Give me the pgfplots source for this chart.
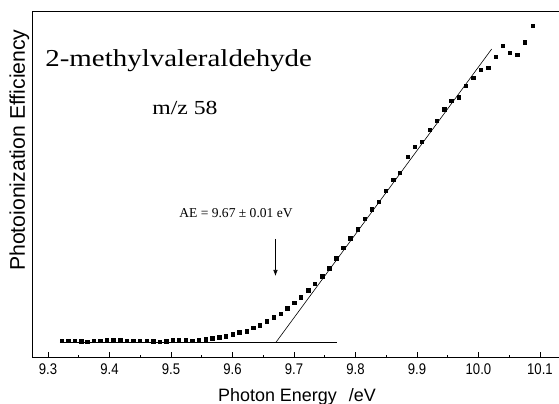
\documentclass[border=0pt]{standalone}
\usepackage{fontspec}
\setmainfont{Liberation Sans}
\newfontfamily\serifwide[FakeStretch=1.19]{Liberation Serif}
\newfontfamily\serifnorm{Liberation Serif}
\newfontfamily\sansnarrow[FakeStretch=0.85]{Liberation Sans}
\usepackage{pgfplots}
\pgfplotsset{compat=1.18}
\usetikzlibrary{arrows.meta}
\begin{document}
\begin{tikzpicture}
\begin{axis}[
  at={(0,0)}, anchor=south west,
  scale only axis, width=540bp, height=346bp,
  xmin=9.27398, xmax=10.1521, ymin=0, ymax=346,
  axis line style={line width=0.8pt},
  ytick=\empty,
  xtick={9.3,9.4,9.5,9.6,9.7,9.8,9.9,10.0,10.1},
  minor x tick num=1,
  xtick pos=bottom,
  tick align=inside,
  major tick length=5bp, minor tick length=2.5bp,
  tick style={line width=0.7pt, black},
  xticklabel style={/pgf/number format/fixed, /pgf/number format/fixed zerofill, /pgf/number format/precision=1, /pgf/number format/assume math mode=true},
  xticklabel style={font=\sansnarrow\fontsize{15.5}{17}\selectfont, yshift=-3.5bp},
  xlabel={Photon Energy\hspace{12bp}/eV},
  xlabel style={at={(axis description cs:0.4907,0)}, anchor=base, yshift=-44.7bp, font=\fontsize{18}{21}\selectfont},
  ylabel={Photoionization Efficiency},
  ylabel style={at={(axis description cs:-0.013,0.598)}, anchor=base, rotate=0, font=\fontsize{21.3}{24}\selectfont},
  clip=false,
]
% baseline and linear fit
\addplot[black, line width=0.6pt, no marks] coordinates {(9.3195,14.7) (9.7694,14.7)};
\addplot[black, line width=0.6pt, no marks] coordinates {(9.6707,14.7) (10.0215,308)};
% arrow
\addplot[black, line width=0.6pt, no marks, -{Latex[length=6bp,width=4.5bp]}] coordinates {(9.6699,118) (9.6699,81)};
% data
\addplot[only marks, mark=square*, mark size=1.7bp, black] coordinates {
(9.3223,16.5) (9.3330,16.5) (9.3439,16.3) (9.3537,16.0) (9.3639,15.5)
(9.3743,16.3) (9.3846,16.5) (9.3954,17.0) (9.4062,17.5) (9.4171,17.0)
(9.4280,16.5) (9.4387,16.5) (9.4496,16.3) (9.4605,16.3) (9.4712,16.0)
(9.4821,15.3) (9.4919,15.8) (9.5028,17.0) (9.5130,17.0) (9.5244,17.0)
(9.5346,16.3) (9.5455,17.0) (9.5564,18.0) (9.5672,18.7) (9.5785,19.7)
(9.5894,21.0) (9.6003,23.0) (9.6111,24.7) (9.6231,26.0) (9.6338,29.3)
(9.6447,32.0) (9.6556,36.0) (9.6675,39.7) (9.6780,43.2) (9.6889,48.7)
(9.7003,54.5) (9.7114,59.7) (9.7233,66.7) (9.7341,73.5) (9.7460,81.0)
(9.7574,89.0) (9.7686,98.7) (9.7802,109.0) (9.7915,118.7) (9.8033,127.7)
(9.8148,138.2) (9.8263,147.7) (9.8382,155.3) (9.8496,166.5) (9.8615,177.0)
(9.8724,184.5) (9.8846,200.0) (9.8967,210.0) (9.9080,215.0) (9.9205,227.0)
(9.9320,236.2) (9.9442,247.7) (9.9556,256.0) (9.9678,259.7) (9.9792,271.0)
(9.9915,279.3) (10.0036,287.0) (10.0159,289.3) (10.0280,300.3) (10.0393,311.3)
(10.0512,304.3) (10.0631,302.0) (10.0756,314.7) (10.0881,331.0)
};
\node[anchor=base, font=\serifwide\fontsize{24.4}{28}\selectfont] at (axis cs:9.5125,290) {2-methylvaleraldehyde};
\node[anchor=base, font=\serifwide\fontsize{20}{24}\selectfont] at (axis cs:9.5228,242) {m/z 58};
\node[anchor=base, font=\serifnorm\fontsize{13.6}{16}\selectfont] at (axis cs:9.6057,139.7) {AE = 9.67 ± 0.01 eV};
\end{axis}
\pgfresetboundingbox
\path (-32bp,-47bp) rectangle (527bp,357bp);
\end{tikzpicture}
\end{document}
